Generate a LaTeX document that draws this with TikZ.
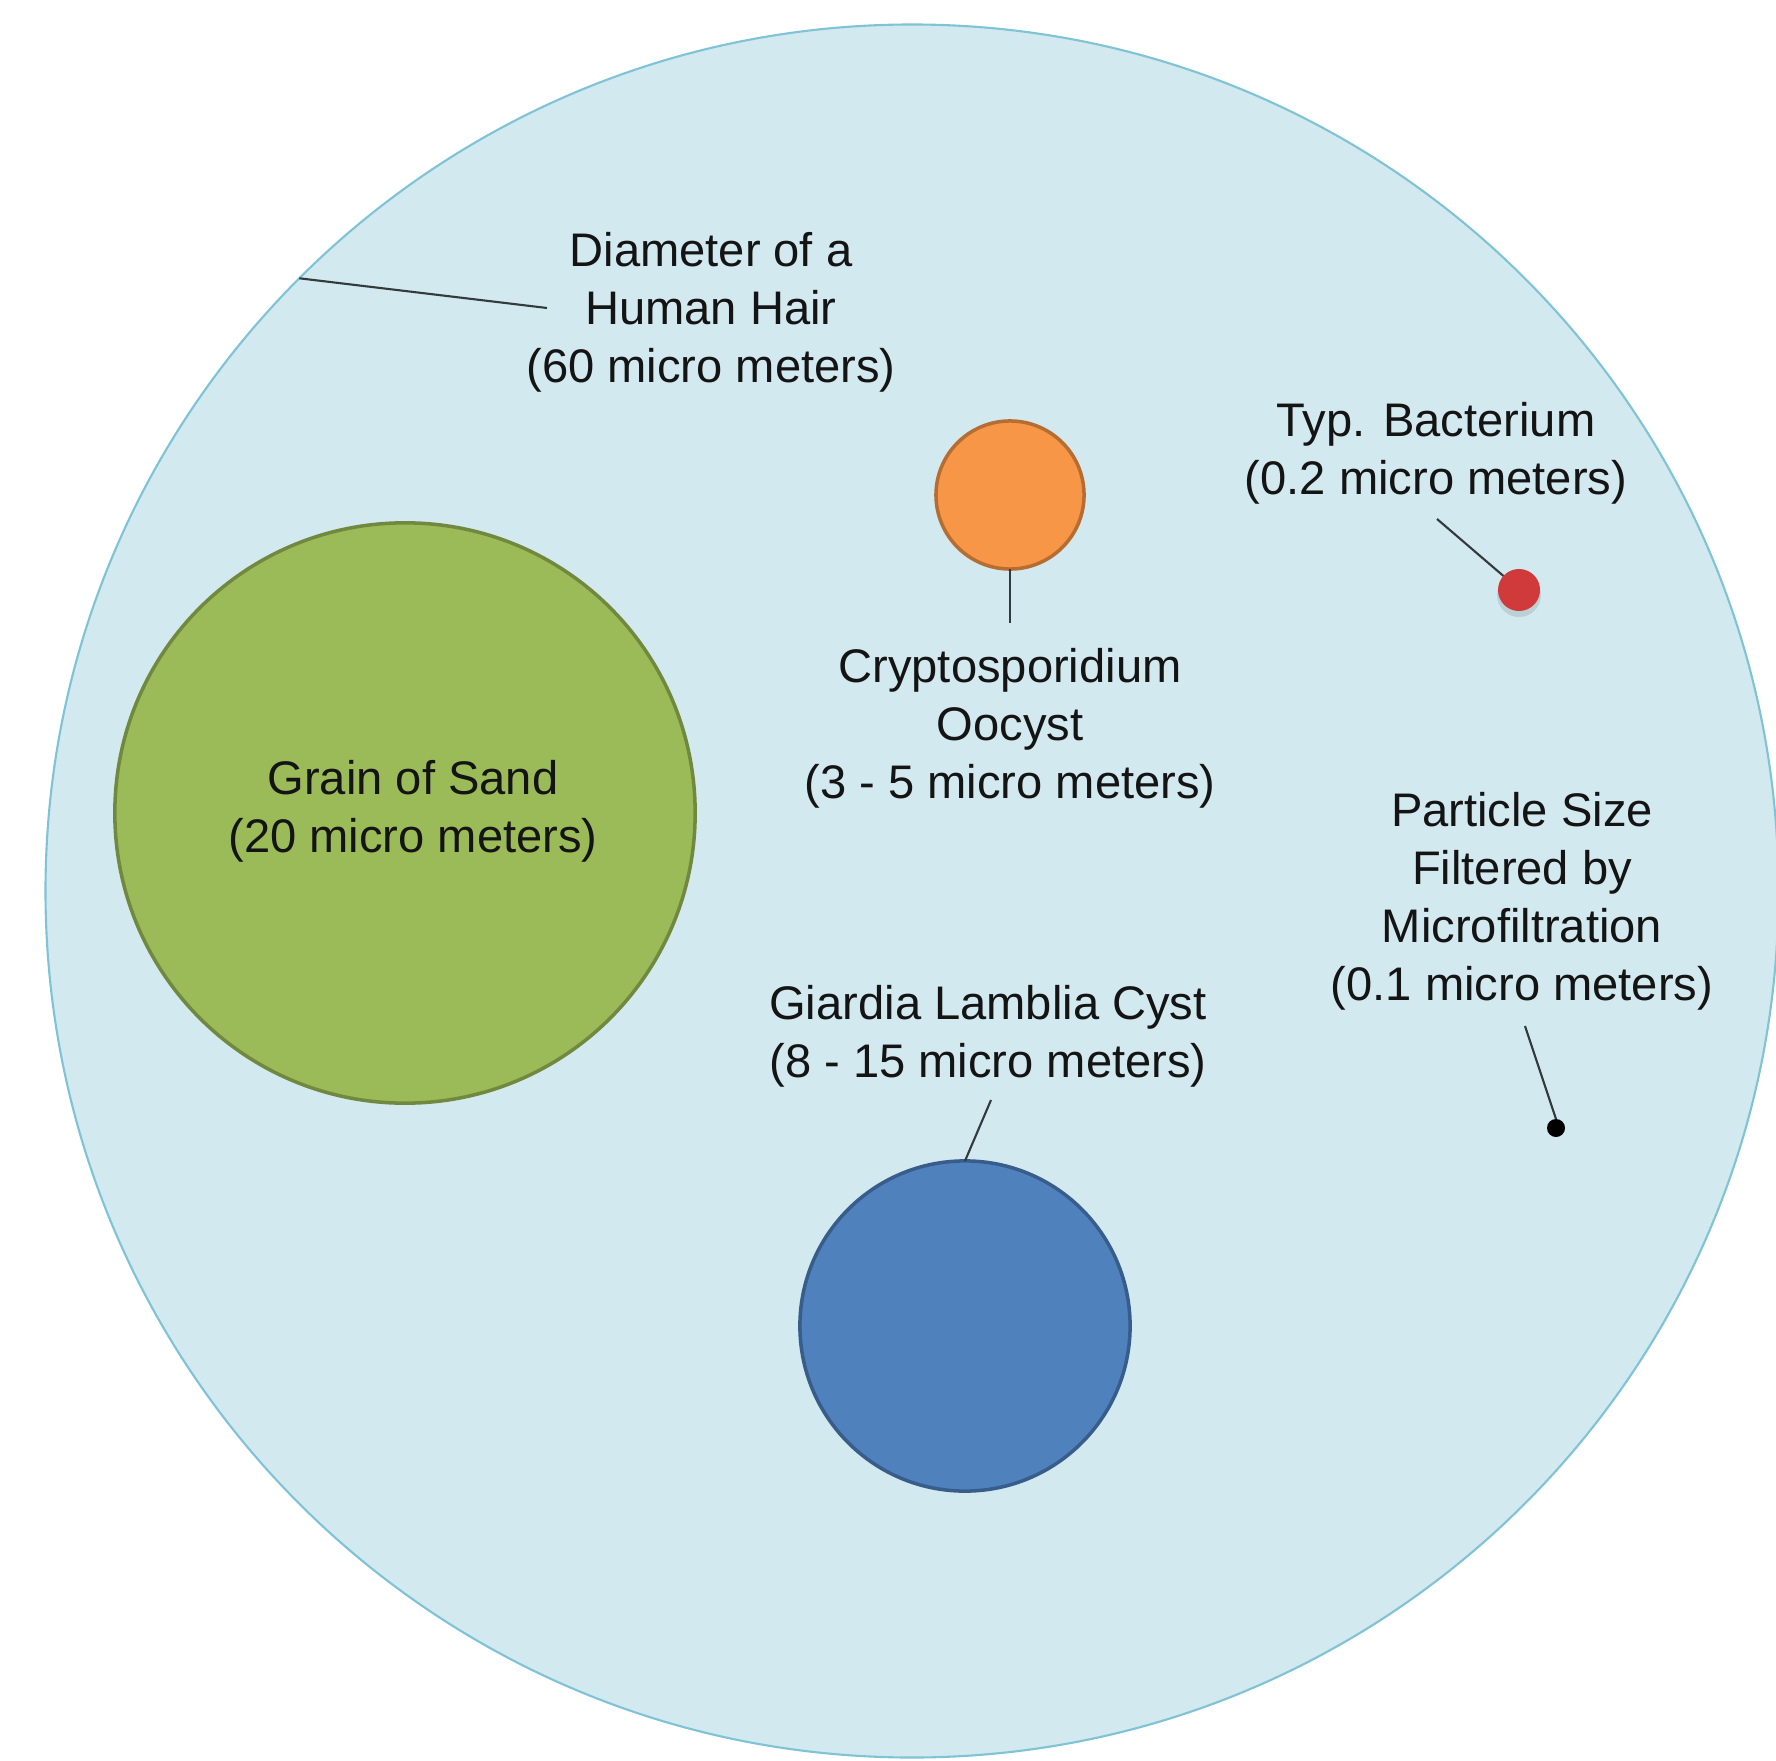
\documentclass[tikz,border=0pt]{standalone}
\usepackage{fontspec}
\setmainfont{Liberation Sans}
\definecolor{bigfill}{HTML}{D2E9EF}
\definecolor{bigline}{HTML}{7FC3D5}
\definecolor{sandfill}{HTML}{9BBB59}
\definecolor{sandline}{HTML}{71893F}
\definecolor{orfill}{HTML}{F79646}
\definecolor{orline}{HTML}{B66D31}
\definecolor{bluefill}{HTML}{4F81BD}
\definecolor{blueline}{HTML}{385D8A}
\definecolor{redfill}{HTML}{D03A3A}
\definecolor{linkcol}{HTML}{333A3C}
\begin{document}
\begin{tikzpicture}[x=0.01cm,y=-0.01cm,
  lbl/.style={align=center, inner sep=0pt, text=black!92,
    font=\fontsize{13.4}{16.5}\selectfont},
  blob/.style={circle, inner sep=0pt, outer sep=0pt},
  link/.style={draw=linkcol, line width=0.6pt}]
\useasboundingbox (0,0) rectangle (1776,1761);
\fill[white] (0,0) rectangle (1776,1761);
% circles
\node[blob, minimum size=17.32cm, fill=bigfill, draw=bigline, line width=0.6pt] (big) at (912,891) {};
\node[blob, minimum size=5.8cm, fill=sandfill, draw=sandline, line width=1pt] (sand) at (405,813) {};
\node[blob, minimum size=1.48cm, fill=orfill, draw=orline, line width=1pt] (crypto) at (1010,495) {};
\fill[black, opacity=0.10] (1519,595) circle (22);
\node[blob, minimum size=0.42cm, fill=redfill] (bact) at (1519,590) {};
\node[blob, minimum size=3.3cm, fill=bluefill, draw=blueline, line width=1pt] (giardia) at (965,1326) {};
\node[blob, minimum size=0.18cm, fill=black] (filt) at (1556,1128) {};
% labels
\node[lbl] (hairlbl) at (711,312) {Diameter of a\\Human Hair\\(60 micro meters)};
\node[lbl] (bactlbl) at (1436,453) {Typ. Bacterium\\(0.2 micro meters)};
\node[lbl] (cryptolbl) at (1010,728) {Cryptosporidium\\Oocyst\\(3 - 5 micro meters)};
\node[lbl] (sandlbl) at (413,811) {Grain of Sand\\(20 micro meters)};
\node[lbl] (filtlbl) at (1522,901) {Particle Size\\Filtered by\\Microfiltration\\(0.1 micro meters)};
\node[lbl] (giardialbl) at (988,1036) {Giardia Lamblia Cyst\\(8 - 15 micro meters)};
% connector free ends
\coordinate (hairend) at (547,308);
\coordinate (bactend) at (1437,519);
\coordinate (cryptoend) at (1010,623);
\coordinate (giardiaend) at (991,1100);
\coordinate (filtend) at (1525,1026);
% connectors
\draw[link] (big.135) -- (hairend);
\draw[link] (bactend) -- (bact.138);
\draw[link] (crypto.south) -- (cryptoend);
\draw[link] (giardiaend) -- (giardia.north);
\draw[link] (filtend) -- (filt.north);
\end{tikzpicture}
\end{document}
